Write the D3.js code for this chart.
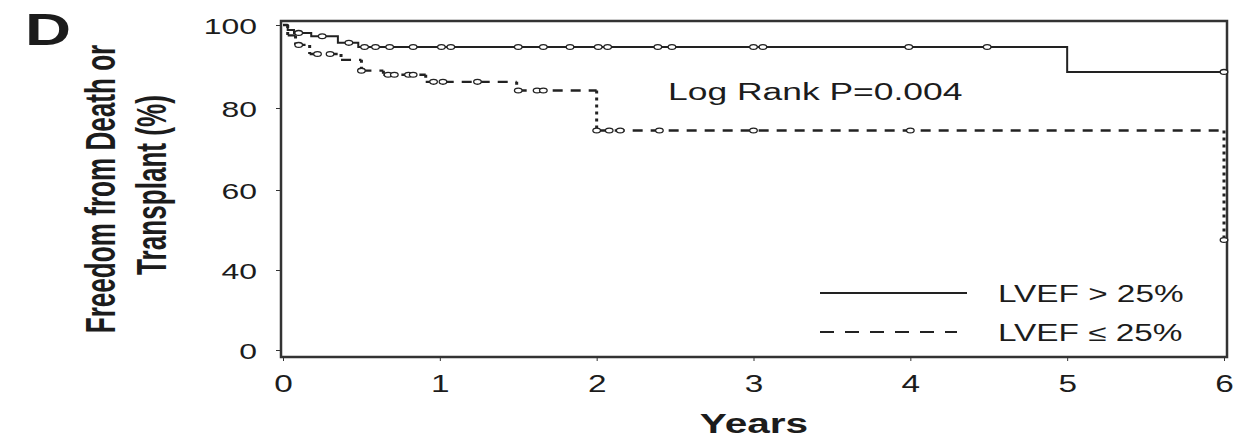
<!DOCTYPE html>
<html>
<head>
<meta charset="utf-8">
<script src="https://cdn.jsdelivr.net/npm/d3@7"></script>
<style>
  body { margin: 0; background: #fff; }
  svg text { font-family: "Liberation Sans", Arial, sans-serif; fill: #1c1c1c; }
</style>
</head>
<body>
<div id="chart-area"></div>
<script>
// axis ticks
const xTicks = [0, 1, 2, 3, 4, 5, 6];
const yTicks = [0, 40, 60, 80, 100];

// LVEF > 25% : step points (years, % free of death/transplant) and censored times
const highTimes = [0, 0.03, 0.07, 0.18, 0.35, 0.48, 5.0, 6.0];
const highSurv = [100, 98.8, 98.1, 97.3, 95.7, 94.7, 88.7, 88.7];
const highCensor = [0.1, 0.25, 0.42, 0.52, 0.59, 0.68, 0.83, 1.01, 1.07, 1.5, 1.66, 1.83,
  2.01, 2.07, 2.39, 2.48, 3.0, 3.06, 3.99, 4.49, 6.0];

// LVEF <= 25%
const lowTimes = [0, 0.03, 0.08, 0.17, 0.37, 0.5, 0.64, 0.91, 1.49, 2.0, 6.0];
const lowSurv = [100, 97.5, 95.2, 93.0, 91.6, 89.0, 88.0, 86.3, 84.2, 74.5, 47.5];
const lowCensor = [0.1, 0.22, 0.3, 0.5, 0.67, 0.71, 0.8, 0.83, 0.96, 1.02, 1.24, 1.5, 1.62, 1.66,
  2.0, 2.08, 2.15, 2.4, 3.0, 4.0, 6.0];

const legendLabels = ["LVEF > 25%", "LVEF \u2264 25%"];

const chartSize = { width: 1251, height: 439 };
const frame = { left: 281, right: 1227, top: 21, bottom: 357 };
const sx = 1.45; // the figure is stretched sideways

const x = d3.scaleLinear().domain([0, 6]).range([283, 1224]);
const y = d3.scaleLinear().domain([0, 40, 60, 80, 100]).range([350, 270, 190, 108, 25]);

const svg = d3.select("#chart-area").append("svg")
  .attr("width", chartSize.width)
  .attr("height", chartSize.height);

// frame
svg.append("rect")
  .attr("x", frame.left).attr("y", frame.top)
  .attr("width", frame.right - frame.left)
  .attr("height", frame.bottom - frame.top)
  .attr("fill", "none").attr("stroke", "#333").attr("stroke-width", 2.5);

// y axis
svg.append("g")
  .attr("transform", `translate(${frame.left},0)`)
  .attr("color", "#333")
  .call(d3.axisLeft(y).tickValues(yTicks).tickFormat(d3.format("d")).tickSize(5))
  .call(g => g.select(".domain").remove())
  .call(g => g.selectAll("text")
    .attr("x", null).attr("dy", null)
    .attr("font-size", 22)
    .attr("text-anchor", "end")
    .attr("transform", `translate(-24,8) scale(${sx},1)`));

// x axis
svg.append("g")
  .attr("transform", `translate(0,${frame.bottom})`)
  .attr("color", "#333")
  .call(d3.axisBottom(x).tickValues(xTicks).tickFormat(d3.format("d")).tickSize(4))
  .call(g => g.select(".domain").remove())
  .call(g => g.selectAll("text")
    .attr("y", null).attr("dy", null)
    .attr("font-size", 23)
    .attr("text-anchor", "middle")
    .attr("transform", `translate(0,35) scale(${sx},1)`));

const survAt = (times, surv, t) => {
  let v = surv[0];
  times.forEach((tt, i) => { if (tt <= t) v = surv[i]; });
  return v;
};

// solid curve
const stepLine = d3.line().x(d => x(d[0])).y(d => y(d[1])).curve(d3.curveStepAfter);
svg.append("path")
  .attr("d", stepLine(highTimes.map((t, i) => [t, highSurv[i]])))
  .attr("fill", "none").attr("stroke", "#222").attr("stroke-width", 2);

// dashed curve: horizontal dashes and dotted drops
const horiz = d3.path();
const vert = d3.path();
for (let i = 1; i < lowTimes.length; i++) {
  horiz.moveTo(x(lowTimes[i - 1]), y(lowSurv[i - 1]));
  horiz.lineTo(x(lowTimes[i]), y(lowSurv[i - 1]));
  vert.moveTo(x(lowTimes[i]), y(lowSurv[i - 1]));
  vert.lineTo(x(lowTimes[i]), y(lowSurv[i]));
}
svg.append("path").attr("d", horiz.toString())
  .attr("fill", "none").attr("stroke", "#222").attr("stroke-width", 2.4)
  .attr("stroke-dasharray", "10,8");
svg.append("path").attr("d", vert.toString())
  .attr("fill", "none").attr("stroke", "#222").attr("stroke-width", 3)
  .attr("stroke-dasharray", "3,4");

// censor marks
const drawCensor = (times, surv, censor) => {
  svg.append("g").selectAll("ellipse").data(censor).join("ellipse")
    .attr("cx", d => x(d))
    .attr("cy", d => y(survAt(times, surv, d)))
    .attr("rx", 3.8).attr("ry", 2.4)
    .attr("fill", "#fff").attr("stroke", "#222").attr("stroke-width", 1.3);
};
drawCensor(highTimes, highSurv, highCensor);
drawCensor(lowTimes, lowSurv, lowCensor);

// panel letter
svg.append("text")
  .attr("transform", `translate(25,45) scale(${sx},1)`)
  .attr("font-size", 44).attr("font-weight", "bold")
  .text("D");

// y label
svg.append("text")
  .attr("transform", `translate(115,189) scale(${sx},0.9) rotate(-90)`)
  .attr("font-size", 29).attr("font-weight", "bold").attr("text-anchor", "middle")
  .text("Freedom from Death or");
svg.append("text")
  .attr("transform", `translate(166,185) scale(${sx},0.9) rotate(-90)`)
  .attr("font-size", 29).attr("font-weight", "bold").attr("text-anchor", "middle")
  .text("Transplant (%)");

// x label
svg.append("text")
  .attr("transform", `translate(${(frame.left + frame.right) / 2},433) scale(${sx},1)`)
  .attr("font-size", 28).attr("font-weight", "bold").attr("text-anchor", "middle")
  .text("Years");

// log rank annotation
svg.append("text")
  .attr("transform", `translate(668,100) scale(1.54,1)`)
  .attr("font-size", 23)
  .text("Log Rank P=0.004");

// legend
const legend = svg.append("g");
legendLabels.forEach((label, i) => {
  const ly = 293 + i * 39;
  legend.append("line")
    .attr("x1", 820).attr("x2", i === 0 ? 967 : 957)
    .attr("y1", ly).attr("y2", ly)
    .attr("stroke", "#222").attr("stroke-width", 2)
    .attr("stroke-dasharray", i === 0 ? null : "14,11");
  legend.append("text")
    .attr("transform", `translate(998,${ly + 9}) scale(${sx},1)`)
    .attr("font-size", 23)
    .text(label);
});
</script>
</body>
</html>
